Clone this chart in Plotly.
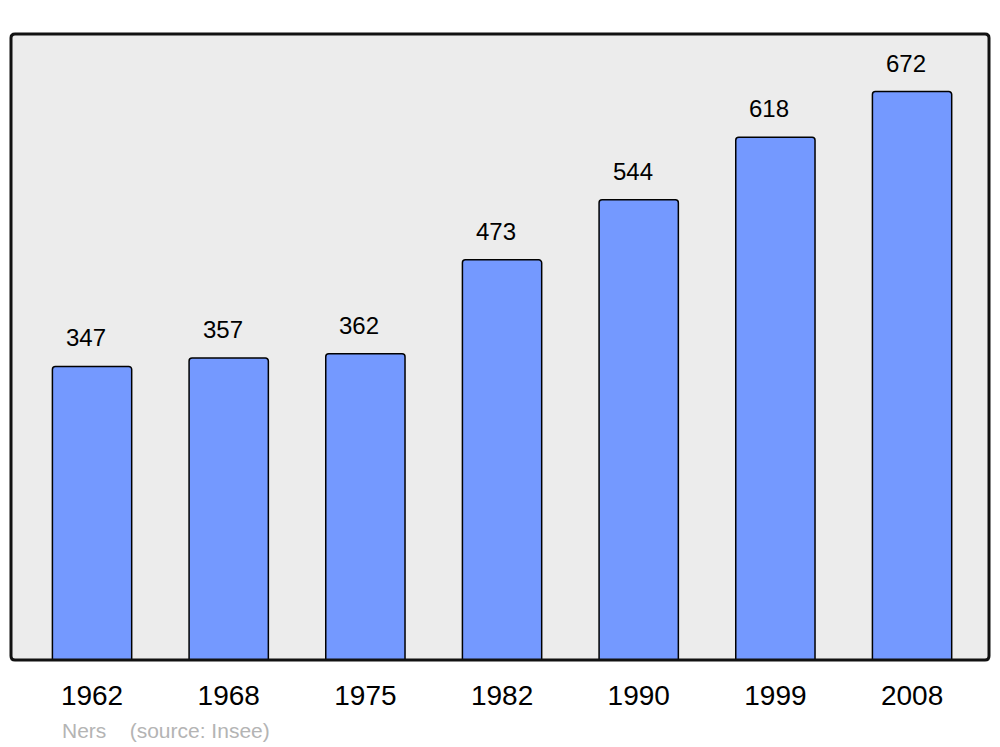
import plotly.graph_objects as go

years = ["1962", "1968", "1975", "1982", "1990", "1999", "2008"]
population = [347, 357, 362, 473, 544, 618, 672]
source_text = "Ners    (source: Insee)"

# page body has an 8px margin; compensate
OFF = 8
W, H = 1000 - OFF, 747 - OFF
L, T = 11 - OFF, 34 - OFF
pw, ph = 978, 626
R = W - L - pw
B = H - T - ph

FONT = "Liberation Sans, Arial"

fig = go.Figure()
fig.add_trace(go.Bar(
    x=list(range(len(years))), y=population,
    marker=dict(color="#7499FF", line=dict(color="#000000", width=1.5), cornerradius=3),
    width=0.58, hoverinfo="skip",
))

for i, v in enumerate(population):
    fig.add_annotation(x=i, y=v, text=str(v), showarrow=False, yanchor="bottom",
                       yshift=13, xshift=-6, font=dict(family=FONT, size=24, color="#000"))

# rounded frame
rx, ry = 4 / pw, 4 / ph
path = (f"M {rx},0 L {1-rx},0 Q 1,0 1,{ry} L 1,{1-ry} Q 1,1 {1-rx},1 "
        f"L {rx},1 Q 0,1 0,{1-ry} L 0,{ry} Q 0,0 {rx},0 Z")
fig.add_shape(type="path", xref="paper", yref="paper", path=path,
              line=dict(color="#111111", width=3), layer="above")

fig.add_annotation(xref="paper", yref="paper", x=(60 - 11) / pw, y=-(730 - 34 - ph) / ph,
                   text=source_text, showarrow=False, xanchor="left", yanchor="middle",
                   font=dict(family=FONT, size=21, color="#B4B4B4"))

fig.update_layout(
    width=W, height=H, margin=dict(l=L, r=R, t=T, b=B, autoexpand=False),
    paper_bgcolor="white", plot_bgcolor="#ECECEC", showlegend=False,
    xaxis=dict(tickmode="array", tickvals=list(range(len(years))), ticktext=years,
               range=[-0.593, 6.563], showgrid=False, zeroline=False,
               ticks="outside", ticklen=10, tickcolor="rgba(0,0,0,0)",
               tickfont=dict(family=FONT, size=28, color="#000")),
    yaxis=dict(range=[0, 740], showgrid=False, zeroline=False, showticklabels=False),
)

fig.write_html("out.html")
